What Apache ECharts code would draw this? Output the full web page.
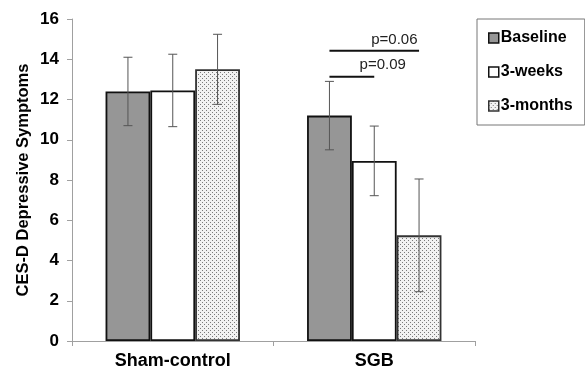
<!DOCTYPE html>
<html>
<head>
<meta charset="utf-8">
<script src="https://cdn.jsdelivr.net/npm/echarts@6/dist/echarts.min.js"></script>
<style>
html,body{margin:0;padding:0;background:#fff;}
#chart{width:585px;height:371px;}
</style>
</head>
<body>
<div id="chart"></div>
<script>
// ---- data ----
var categories = ['Sham-control', 'SGB'];
var seriesNames = ['Baseline', '3-weeks', '3-months'];
var baselineMean = [12.4, 11.2];
var weeksMean = [12.45, 8.95];
var monthsMean = [13.5, 5.25];
var baselineErr = [1.7, 1.7];
var weeksErr = [1.8, 1.73];
var monthsErr = [1.74, 2.8];
var yTicks = [0, 2, 4, 6, 8, 10, 12, 14, 16];
// significance comparisons
var sigFrom = [0, 0];
var sigTo = [2, 1];
var sigCategory = [1, 1];
var sigHeight = [14.42, 13.13];
var sigLabel = ['p=0.06', 'p=0.09'];
var sigLabelHeight = [14.95, 13.7];
var sigLabelSeriesPos = [1.45, 1.19];

var means = [baselineMean, weeksMean, monthsMean];
var errs = [baselineErr, weeksErr, monthsErr];

// dotted pattern for 3-months
var pat = document.createElement('canvas');
pat.width = 4; pat.height = 4;
var pc = pat.getContext('2d');
pc.fillStyle = '#f2f2f2'; pc.fillRect(0, 0, 4, 4);
pc.fillStyle = '#7a7a7a';
pc.fillRect(0, 0, 1, 1);
pc.fillRect(2, 2, 1, 1);

var GAP = 0.333;
var NB = 3;
var FONT = '"Liberation Sans", Arial, sans-serif';

function barCenter(api, cat, idx, val) {
  var c = api.coord([cat, val]);
  var cw = api.size([1, 0])[0];
  var bw = cw * (1 - GAP) / NB;
  return [c[0] + (idx - (NB - 1) / 2) * bw, c[1]];
}

var fills = ['#969696', '#ffffff', {image: pat, repeat: 'repeat'}];
var borders = ['#111', '#111', '#333'];

var series = [];
seriesNames.forEach(function (name, i) {
  series.push({
    name: name,
    type: 'bar',
    data: means[i],
    barGap: '0%',
    barCategoryGap: (GAP * 100) + '%',
    itemStyle: {color: fills[i], borderColor: borders[i], borderWidth: 1.8},
    emphasis: {disabled: true},
    z: 2
  });
});
seriesNames.forEach(function (name, i) {
  series.push({
    type: 'custom',
    name: name + '-err',
    data: means[i].map(function (m, k) { return [k, m, errs[i][k]]; }),
    z: 5,
    silent: true,
    renderItem: function (params, api) {
      var cat = api.value(0), m = api.value(1), e = api.value(2);
      var hi = barCenter(api, cat, i, m + e);
      var lo = barCenter(api, cat, i, m - e);
      var x = hi[0];
      var style = {stroke: '#555', lineWidth: 1};
      return {
        type: 'group',
        children: [
          {type: 'line', shape: {x1: x, y1: hi[1], x2: x, y2: lo[1]}, style: style},
          {type: 'line', shape: {x1: x - 4.5, y1: hi[1], x2: x + 4.5, y2: hi[1]}, style: style},
          {type: 'line', shape: {x1: x - 4.5, y1: lo[1], x2: x + 4.5, y2: lo[1]}, style: style}
        ]
      };
    }
  });
});
series.push({
  type: 'custom',
  name: 'sig',
  silent: true,
  z: 6,
  data: sigHeight.map(function (h, k) { return [sigCategory[k], h, sigFrom[k], sigTo[k], sigLabelHeight[k], sigLabelSeriesPos[k], k]; }),
  renderItem: function (params, api) {
    var cat = api.value(0), h = api.value(1), f = api.value(2), t = api.value(3);
    var lh = api.value(4), lp = api.value(5), k = api.value(6);
    var a = barCenter(api, cat, f, h);
    var b = barCenter(api, cat, t, h);
    var tp = barCenter(api, cat, lp, lh);
    return {
      type: 'group',
      children: [
        {type: 'line', shape: {x1: a[0], y1: a[1], x2: b[0], y2: b[1]}, style: {stroke: '#111', lineWidth: 2}},
        {type: 'text', x: tp[0], y: tp[1], style: {text: sigLabel[k], fill: '#222', font: '15px ' + FONT, align: 'center', verticalAlign: 'middle'}}
      ]
    };
  }
});

var chart = echarts.init(document.getElementById('chart'), null, {renderer: 'canvas'});
chart.setOption({
  animation: false,
  backgroundColor: '#fff',
  textStyle: {fontFamily: FONT},
  grid: {left: 72, right: 110, top: 19, bottom: 30, containLabel: false},
  legend: {
    data: seriesNames.map(function (n) { return {name: n, icon: 'rect'}; }),
    orient: 'vertical',
    left: 477,
    top: 19,
    padding: [11, 12, 11, 11],
    itemWidth: 10,
    itemHeight: 10,
    itemGap: 18,
    borderColor: '#777',
    borderWidth: 1,
    selectedMode: false,
    textStyle: {fontSize: 16, fontWeight: 'bold', color: '#000', padding: [0, 0, 0, -3]},
    itemStyle: {borderWidth: 1.5}
  },
  xAxis: {
    type: 'category',
    data: categories,
    axisLine: {lineStyle: {color: '#a0a0a0', width: 1}},
    axisTick: {show: true, length: 5, lineStyle: {color: '#a0a0a0'}},
    axisLabel: {fontSize: 18, fontWeight: 'bold', color: '#000', margin: 11}
  },
  yAxis: {
    type: 'value',
    min: yTicks[0],
    max: yTicks[yTicks.length - 1],
    interval: 2,
    name: 'CES-D Depressive Symptoms',
    nameLocation: 'middle',
    nameGap: 40,
    nameMoveOverlap: false,
    nameTextStyle: {fontSize: 16.5, fontWeight: 'bold', color: '#000'},
    axisLine: {show: true, lineStyle: {color: '#a0a0a0', width: 1}},
    axisTick: {show: true, length: 5, lineStyle: {color: '#a0a0a0'}},
    axisLabel: {fontSize: 17, fontWeight: 'bold', color: '#000', margin: 13},
    splitLine: {show: false}
  },
  series: series
});
</script>
</body>
</html>
